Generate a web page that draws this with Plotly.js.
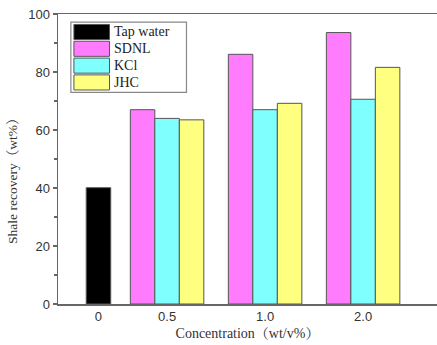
<!DOCTYPE html>
<html><head><meta charset="utf-8">
<script src="https://cdn.plot.ly/plotly-3.0.1.min.js"></script>
<style>html,body{margin:0;padding:0;background:#fff;overflow:hidden}</style>
</head><body>
<div id="chart" style="width:437px;height:345px"></div>
<script>
// ---- data ----
const tickLabels = ["0", "0.5", "1.0", "2.0"];
const tickPositions = [0, 0.7, 1.7, 2.7];
const seriesNames = ["Tap water", "SDNL", "KCl", "JHC"];
const seriesColors = ["#000000", "#ff7cff", "#80ffff", "#ffff80"];
const tapWater = [40.1];
const sdnl = [67.0, 86.1, 93.6];
const kcl = [64.0, 67.0, 70.6];
const jhc = [63.5, 69.2, 81.6];
const xTitle = "Concentration（wt/v%）";
const yTitle = "Shale recovery（wt%）";

const serif = "'Liberation Serif', 'Times New Roman', 'Noto Serif CJK SC', 'Noto Sans CJK SC', serif";
const sans = "'Liberation Sans', Arial, sans-serif";

const barW = 0.25;
const traces = [
  {type:'bar', name:seriesNames[0], x:[tickPositions[0]], y:tapWater, width:barW, offset:-barW/2,
   marker:{color:seriesColors[0], line:{color:'#555', width:1}}},
  {type:'bar', name:seriesNames[1], x:tickPositions.slice(1), y:sdnl, width:barW, offset:-1.5*barW,
   marker:{color:seriesColors[1], line:{color:'#555', width:1}}},
  {type:'bar', name:seriesNames[2], x:tickPositions.slice(1), y:kcl, width:barW, offset:-0.5*barW,
   marker:{color:seriesColors[2], line:{color:'#555', width:1}}},
  {type:'bar', name:seriesNames[3], x:tickPositions.slice(1), y:jhc, width:barW, offset:0.5*barW,
   marker:{color:seriesColors[3], line:{color:'#555', width:1}}}
];

// custom legend (wide swatches like the original)
const shapes = [];
const annotations = [];
const lgX0 = 0.034, lgY0 = 0.972, rowH = 0.058;
shapes.push({type:'rect', xref:'paper', yref:'paper', x0:lgX0, x1:lgX0+0.305, y0:lgY0-4*rowH-0.01, y1:lgY0,
  line:{color:'#888', width:1.2}, fillcolor:'rgba(0,0,0,0)'});
seriesNames.forEach((n,i)=>{
  const yc = lgY0 - 0.034 - i*rowH;
  shapes.push({type:'rect', xref:'paper', yref:'paper', x0:lgX0+0.008, x1:lgX0+0.102, y0:yc-0.026, y1:yc+0.026,
    line:{color:'#555', width:1}, fillcolor:seriesColors[i]});
  annotations.push({xref:'paper', yref:'paper', x:lgX0+0.108, y:yc, xanchor:'left', yanchor:'middle',
    text:n, showarrow:false, font:{family:serif, size:14, color:'#222'}});
});
annotations.push({xref:'paper', yref:'paper', x:-0.122, y:0.434, xanchor:'center', yanchor:'middle',
  textangle:-90, text:yTitle, showarrow:false, font:{family:serif, size:13.5, color:'#333'}});

const layout = {
  width:437, height:345,
  margin:{l:58, r:0, t:14, b:41},
  paper_bgcolor:'#fff', plot_bgcolor:'#fff',
  barmode:'overlay',
  showlegend:false,
  xaxis:{range:[-0.413, 3.454], tickvals:tickPositions, ticktext:tickLabels, ticks:'',
    showline:true, linecolor:'#666', linewidth:1.5, mirror:true, showgrid:false, zeroline:false,
    tickfont:{family:sans, size:13, color:'#333'},
    title:{text:xTitle, standoff:5, font:{family:serif, size:14, color:'#333'}}},
  yaxis:{range:[0,100], dtick:20, ticks:'outside', ticklen:4, tickcolor:'#666', tickwidth:1.2,
    minor:{dtick:10, ticks:'outside', ticklen:3, tickcolor:'#666'},
    showline:true, linecolor:'#666', linewidth:1.5, mirror:false, showgrid:false, zeroline:false,
    tickfont:{family:sans, size:13, color:'#333'}},
  shapes:shapes, annotations:annotations
};
Plotly.newPlot('chart', traces, layout, {displayModeBar:false, staticPlot:true});
</script>
</body></html>
